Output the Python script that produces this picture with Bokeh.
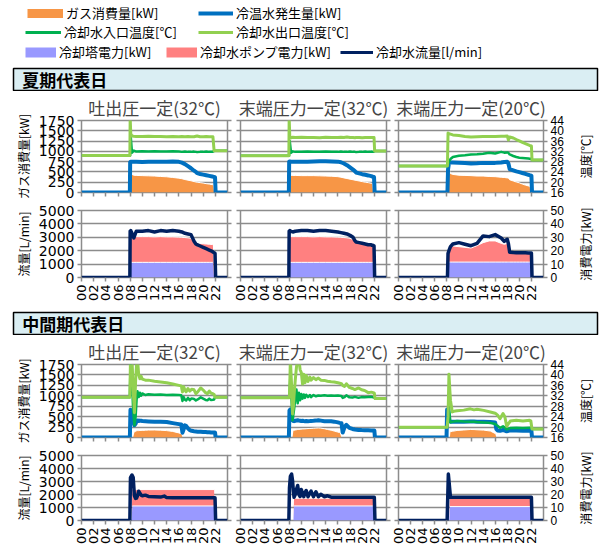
import math
from bokeh.plotting import figure
from bokeh.models import Range1d, LinearAxis, FixedTicker, Legend, LegendItem, Label
from bokeh.layouts import column, row
from bokeh.embed import file_html
from bokeh.resources import INLINE

# ---------------- data ----------------
HOUR_TICKS = [0, 2, 4, 6, 8, 10, 12, 14, 16, 18, 20, 22]
HOUR_LABELS = ["00", "02", "04", "06", "08", "10", "12", "14", "16", "18", "20", "22"]
GAS_TICKS = [0, 250, 500, 750, 1000, 1250, 1500, 1750]
TEMP_TICKS = [16, 20, 24, 28, 32, 36, 40, 44]
FLOW_TICKS = [0, 1000, 2000, 3000, 4000, 5000]
POWER_TICKS = [0, 10, 20, 30, 40, 50]

SEASONS = ["夏期代表日", "中間期代表日"]
PANEL_TITLES = ["吐出圧一定(32℃)", "末端圧力一定(32℃)", "末端圧力一定(20℃)"]
SERIES = ["ガス消費量[kW]", "冷温水発生量[kW]", "冷却水入口温度[℃]", "冷却水出口温度[℃]",
          "冷却塔電力[kW]", "冷却水ポンプ電力[kW]", "冷却水流量[l/min]"]
AXIS_LABELS = ["ガス消費量[kW]", "温度[℃]", "流量[L/min]", "消費電力[kW]"]

# summer, panels 1 and 2 (hours)
T_S12 = [0, 7.95, 8.0, 8.1, 8.3, 8.6, 9, 10, 11, 12, 13, 14, 15, 16, 16.5, 17, 17.5, 18, 18.5, 18.8,
         19.0, 19.5, 20, 20.5, 21, 21.5, 21.6, 21.8, 21.95, 22.05, 24]
GAS_S1 = [0, 0, 0, 540, 440, 420, 415, 410, 405, 400, 390, 382, 365, 348, 335, 315, 300, 285, 266, 255,
          250, 240, 230, 215, 205, 190, 188, 0, 0, 0, 0]
CW_S1 = [0, 0, 740, 750, 750, 745, 745, 740, 745, 750, 745, 750, 755, 745, 725, 690, 640, 590, 530, 500,
         470, 450, 435, 420, 405, 390, 385, 375, 370, 0, 0]
TIN_S1 = [30.4, 30.4, 30.4, 37.5, 31.5, 32.3, 31.9, 32.0, 31.9, 32.0, 31.9, 31.9, 32.0, 31.9, 31.8, 31.9,
          31.8, 31.8, 31.9, 31.8, 31.7, 31.8, 31.8, 31.9, 31.8, 31.8, 31.9, 32.2, 32.2, 32.2, 32.2]
TOUT_S1 = [30.4, 30.4, 45.0, 38.8, 38.0, 37.9, 37.8, 37.8, 37.9, 37.8, 37.8, 37.7, 37.8, 37.7, 37.8, 37.7,
           37.8, 37.7, 37.7, 37.9, 38.0, 37.7, 37.7, 37.8, 37.7, 37.7, 37.7, 32.2, 32.2, 32.2, 32.2]
FLOW_S1 = [0, 0, 3450, 3500, 3300, 2950, 3450, 3450, 3500, 3400, 3500, 3450, 3500, 3450, 3400, 3300,
           3250, 3200, 2700, 2500, 2450, 2350, 2250, 2150, 2050, 1950, 1900, 1850, 1800, 0, 0]
TOWER_S1 = [0, 0, 0, 11.3, 11.3, 11.3, 11.3, 11.3, 11.3, 11.3, 11.3, 11.3, 11.3, 11.3, 11.3, 11.3,
            11.3, 11.3, 11.3, 11.3, 11.3, 11.3, 11.3, 11.3, 11.3, 11.3, 11.3, 0, 0, 0, 0]
PUMP_S1 = [0, 0, 0, 19.0, 19.2, 19.2, 19.2, 19.2, 19.2, 19.0, 19.2, 19.0, 19.0, 18.8, 18.7, 18.5,
           18.3, 18.0, 14.8, 14.5, 14.3, 14.1, 13.9, 13.7, 13.5, 13.3, 13.2, 0, 0, 0, 0]

GAS_S2 = [0, 0, 0, 470, 420, 415, 415, 410, 410, 410, 405, 400, 395, 385, 372, 355, 340, 325, 310, 300,
          295, 280, 265, 250, 240, 225, 222, 0, 0, 0, 0]
CW_S2 = [0, 0, 750, 755, 750, 745, 745, 750, 750, 755, 760, 760, 755, 750, 735, 705, 665, 610, 555, 520,
         485, 465, 445, 430, 415, 398, 392, 380, 375, 0, 0]
TIN_S2 = [30.3, 30.3, 30.3, 36.0, 31.5, 32.0, 31.8, 31.8, 31.9, 31.8, 31.8, 31.9, 31.8, 31.8, 31.9, 31.8,
          31.8, 31.9, 31.8, 31.8, 31.7, 31.8, 31.8, 31.9, 31.8, 31.8, 31.9, 31.8, 31.9, 32.1, 32.1]
TOUT_S2 = [30.3, 30.3, 45.0, 37.8, 37.3, 37.5, 37.4, 37.5, 37.4, 37.4, 37.3, 37.5, 37.4, 37.4, 37.5, 37.4,
           37.6, 37.4, 37.4, 37.3, 37.4, 37.4, 37.3, 37.4, 37.4, 37.4, 37.4, 37.4, 37.4, 32.1, 32.1]
FLOW_S2 = [0, 0, 3450, 3500, 3450, 3400, 3450, 3500, 3500, 3450, 3500, 3500, 3450, 3400, 3350, 3300,
           3250, 3150, 3000, 2750, 2650, 2600, 2550, 2500, 2450, 2450, 2400, 2400, 2350, 0, 0]
TOWER_S2 = [0, 0, 0, 11.3, 11.3, 11.3, 11.3, 11.3, 11.3, 11.3, 11.3, 11.3, 11.3, 11.3, 11.3, 11.3,
            11.3, 11.3, 11.3, 11.3, 11.3, 11.3, 11.3, 11.3, 11.3, 11.3, 11.3, 11.3, 11.3, 0, 0]
PUMP_S2 = [0, 0, 0, 19.0, 19.2, 19.2, 19.2, 19.2, 19.2, 19.0, 19.2, 19.0, 19.0, 18.8, 18.7, 18.5,
           18.3, 18.0, 17.0, 15.5, 15.0, 14.6, 14.3, 14.0, 13.7, 13.5, 13.4, 13.3, 13.2, 0, 0]

# summer, panel 3
T_S3 = [0, 8.1, 8.2, 8.35, 8.6, 9, 10, 11, 12, 13, 14, 15, 16, 17, 17.5, 18, 18.2, 18.4, 19, 19.5,
        20, 20.5, 21, 21.5, 21.7, 21.85, 22.0, 22.1, 24]
GAS_S3 = [0, 0, 0, 570, 460, 440, 420, 415, 410, 400, 400, 390, 385, 370, 365, 355, 350, 310, 280, 255,
          235, 205, 180, 160, 145, 0, 0, 0, 0]
CW_S3 = [0, 0, 560, 720, 730, 730, 725, 715, 705, 710, 720, 715, 720, 730, 740, 745, 700, 570, 540, 515,
         495, 475, 455, 430, 420, 415, 410, 0, 0]
TIN_S3 = [26.3, 26.3, 27.0, 28.0, 29.0, 29.8, 30.3, 30.5, 30.8, 30.9, 31.1, 31.5, 31.2, 31.8, 31.5, 31.6,
          31.4, 30.8, 30.2, 29.8, 29.5, 29.4, 29.3, 29.2, 29.1, 29.1, 29.1, 28.6, 28.6]
TOUT_S3 = [26.3, 26.3, 39.1, 38.9, 38.7, 38.4, 38.2, 37.8, 37.6, 37.7, 37.8, 37.8, 37.8, 37.9, 37.9, 38.0,
           36.4, 37.6, 37.2, 36.6, 36.1, 35.5, 35.0, 34.5, 34.3, 34.2, 34.1, 28.6, 28.6]
FLOW_S3 = [0, 0, 1800, 2000, 2300, 2500, 2600, 2480, 2370, 2550, 3100, 3050, 3200, 2950, 2700, 2850,
           2500, 1880, 1860, 1850, 1850, 1840, 1840, 1830, 1830, 1830, 1830, 0, 0]
TOWER_S3 = [0, 0, 11.5, 11.5, 11.5, 11.5, 11.5, 11.5, 11.5, 11.5, 11.5, 11.5, 11.5, 11.5, 11.5, 11.5,
            11.5, 11.5, 11.5, 11.5, 11.5, 11.5, 11.5, 11.5, 11.5, 11.5, 11.5, 0, 0]
PUMP_S3 = [0, 0, 6.5, 10.5, 11.2, 12.0, 11.5, 11.0, 10.5, 12.3, 14.5, 15.8, 15.8, 14.0, 13.3, 13.9,
           12.5, 7.3, 7.3, 7.3, 7.3, 7.3, 7.3, 7.3, 7.3, 7.3, 7.3, 0, 0]

# intermediate season, panel 1
T_M1 = [0, 7.95, 8.05, 8.3, 8.5, 8.7, 8.9, 9.05, 9.2, 9.4, 9.6, 9.8, 10.0, 10.5, 11, 12, 13, 14, 15, 16,
        16.4, 16.6, 16.8, 17.0, 17.2, 17.5, 17.8, 18.1, 18.5, 18.8, 19.1, 19.6, 20.0, 20.4, 20.7, 21.0,
        21.3, 21.6, 21.8, 21.95, 22.05, 24]
GAS_M1 = [0, 0, 0, 0, 0, 130, 150, 160, 165, 165, 170, 170, 170, 175, 178, 180, 175, 165, 145, 110,
          90, 0, 0, 0, 0, 0, 0, 0, 0, 0, 0, 0, 0, 0, 0, 0, 0, 0, 0, 0, 0, 0]
CW_M1 = [0, 0, 665, 590, 420, 295, 330, 400, 410, 395, 405, 400, 395, 390, 385, 375, 380, 370, 345, 320,
         310, 115, 200, 290, 280, 220, 175, 160, 150, 145, 140, 135, 130, 130, 125, 125, 120, 120, 120,
         120, 0, 0]
TIN_M1 = [31.4, 31.4, 44, 38, 26, 20.7, 24, 30.2, 33.7, 31.5, 33.2, 32.0, 32.9, 32.3, 32.6, 32.4, 32.5,
          32.3, 32.4, 32.3, 32.2, 30.0, 31.5, 30.5, 30.2, 31.2, 30.3, 31.0, 30.8, 30.2, 30.6, 31.4, 30.9,
          30.4, 30.3, 30.9, 30.4, 30.5, 30.6, 31.4, 31.4, 31.4]
TOUT_M1 = [31.4, 31.4, 46, 46, 34, 25.5, 38, 44, 46, 40.2, 38.5, 39.5, 38.4, 38.0, 38.0, 37.6, 37.3,
           37.0, 36.5, 36.0, 35.8, 33.5, 35.5, 34.2, 33.5, 34.8, 33.8, 34.5, 34.3, 32.8, 33.5, 35.0, 34.2,
           33.2, 32.8, 33.8, 33.0, 32.8, 32.5, 31.4, 31.4, 31.4]
TF_M1 = [0, 7.95, 8.05, 8.3, 8.5, 8.7, 8.9, 9.05, 9.2, 9.4, 9.6, 9.8, 10.0, 10.5, 11, 12, 13, 13.6, 14,
         15, 21.95, 22.05, 24]
FLOW_M1 = [0, 0, 3300, 3500, 3300, 1900, 1700, 1720, 1900, 2250, 2100, 1950, 1900, 1950, 1850, 1830,
           1800, 1880, 1760, 1750, 1750, 0, 0]
TP_M1 = [0, 8.25, 8.35, 21.8, 21.9, 24]
TOWER_M1 = [0, 0, 11.2, 11.2, 0, 0]
PUMP_M1 = [0, 0, 12.6, 12.6, 0, 0]

# intermediate season, panel 2
T_M2 = [0, 7.95, 8.05, 8.2, 8.4, 8.55, 8.7, 8.8, 9.0, 9.2, 9.4, 9.6, 9.8, 10.0, 10.2, 10.4, 10.6, 10.8,
        11.1, 11.4, 11.6, 12.0, 12.4, 12.8, 13.2, 13.8, 14.3, 14.9, 15.4, 16.0, 16.3, 16.6, 16.8, 17.1,
        17.4, 17.9, 18.4, 18.8, 19.4, 19.9, 20.4, 21.0, 21.5, 21.8, 22.0, 22.1, 24]
GAS_M2 = [0, 0, 0, 0, 0, 0, 170, 175, 180, 185, 192, 195, 198, 200, 203, 205, 207, 210, 214, 216, 218,
          222, 226, 229, 225, 210, 192, 175, 155, 130, 118, 0, 0, 0, 0, 0, 0, 0, 0, 0, 0, 0, 0, 0, 0, 0, 0]
CW_M2 = [0, 0, 650, 672, 600, 414, 395, 390, 400, 410, 414, 405, 400, 395, 400, 395, 392, 395, 392, 395,
         398, 400, 405, 414, 405, 392, 392, 390, 380, 362, 350, 340, 118, 250, 303, 229, 205, 192, 182,
         177, 175, 172, 170, 170, 170, 0, 0]
TIN_M2 = [31.2, 31.2, 31.5, 40, 30, 22.6, 25, 26.7, 30.9, 34.4, 29.1, 33.2, 30.3, 32.7, 30.9, 32.5,
          31.2, 32.4, 31.5, 32.3, 31.5, 32.3, 31.8, 32.1, 32.0, 32.2, 32.0, 32.1, 32.0, 32.1, 32.0, 31.9,
          31.2, 31.5, 32.2, 31.4, 31.3, 31.6, 31.2, 31.5, 31.4, 31.5, 31.6, 31.4, 31.3, 31.0, 31.0]
TOUT_M2 = [31.2, 31.2, 31.5, 46, 36, 25.0, 28, 32, 38, 43, 46, 46, 42, 40.9, 36.5, 40.3, 37.0, 39.8,
           37.5, 39.2, 38.0, 39.0, 38.2, 38.8, 38.0, 37.9, 37.6, 37.4, 37.3, 37.0, 36.8, 36.6, 36.0, 35.6,
           36.6, 35.2, 34.8, 34.4, 35.0, 34.3, 34.0, 33.2, 33.4, 33.2, 33.0, 31.0, 31.0]
TF_M2 = [0, 7.95, 8.05, 8.2, 8.4, 8.55, 8.7, 8.8, 9.0, 9.2, 9.4, 9.6, 9.8, 10.0, 10.2, 10.4, 10.6, 10.8,
         11.1, 11.4, 11.6, 12.0, 12.4, 12.8, 13.2, 13.8, 14.3, 14.9, 22.0, 22.1, 24]
FLOW_M2 = [0, 0, 2500, 3400, 3570, 3100, 2200, 1790, 2000, 2400, 2690, 2000, 1850, 2380, 2100, 1830,
           2150, 2310, 1830, 2100, 2260, 1830, 2210, 1830, 2020, 1830, 1900, 1790, 1790, 0, 0]
TP_M2 = [0, 8.7, 8.8, 22.0, 22.1, 24]
TOWER_M2 = [0, 0, 11.2, 11.2, 0, 0]
PUMP_M2 = [0, 0, 5.9, 5.9, 0, 0]

# intermediate season, panel 3
T_M3 = [0, 7.95, 8.05, 8.2, 8.35, 8.5, 8.6, 8.9, 9.4, 9.7, 10.8, 11.9, 12.5, 13.0, 14.1, 15.2, 16.0,
        16.2, 16.4, 16.8, 17.3, 17.6, 17.9, 18.5, 19.5, 20.6, 21.7, 21.9, 22.0, 22.1, 24]
GAS_M3 = [0, 0, 0, 0, 0, 0, 140, 150, 160, 170, 180, 192, 190, 185, 177, 155, 96, 0, 0, 0, 0, 0, 0, 0,
          0, 0, 0, 0, 0, 0, 0]
CW_M3 = [0, 0, 670, 640, 400, 385, 380, 378, 375, 378, 380, 385, 382, 380, 375, 370, 360, 200, 170, 160,
         180, 165, 150, 170, 165, 160, 165, 162, 160, 0, 0]
TIN_M3 = [19.9, 19.9, 19.9, 22, 28, 24, 21.8, 22.0, 22.2, 22.3, 22.1, 22.0, 22.0, 21.9, 21.8, 21.6, 21.2,
          20.8, 20.5, 19.7, 20.3, 19.8, 19.1, 19.6, 19.7, 19.6, 19.7, 19.7, 19.6, 19.3, 19.3]
TOUT_M3 = [19.9, 19.9, 19.9, 24, 40.3, 34, 30.3, 25.8, 26.2, 26.3, 26.5, 27.0, 26.6, 26.8, 26.4, 25.8,
           25.3, 25.0, 24.6, 23.2, 25.2, 24.0, 20.3, 22.3, 22.6, 22.3, 22.6, 22.4, 20.8, 19.3, 19.3]
TF_M3 = [0, 8.05, 8.25, 8.6, 22.0, 22.1, 24]
FLOW_M3 = [0, 0, 3570, 1790, 1790, 0, 0]
TP_M3 = [0, 8.4, 8.5, 22.0, 22.05, 24]
TOWER_M3 = [0, 0, 10.7, 10.7, 0, 0]
PUMP_M3 = [0, 0, 7.2, 7.2, 0, 0]

# ---------------- styles ----------------
C_GAS, C_CW, C_TIN, C_TOUT = "#F79646", "#0070C0", "#00B050", "#92D050"
C_TOWER, C_PUMP, C_FLOW = "#9999FF", "#FF8080", "#002060"
GRID = "#8C8C8C"
HEAD_BG = "#DAEEF3"
CJK = "Noto Sans CJK JP"
NUM = "DejaVu Sans"
NUM_R = "Liberation Sans"
NAN = float("nan")

COLS = [dict(width=234, left=81, right=7),
        dict(width=158, left=6, right=6),
        dict(width=174, left=6, right=22)]
SIDE_W = 36


def style_axis(ax, ticks, show, size="14px", font=NUM, overrides=None):
    ax.ticker = FixedTicker(ticks=ticks)
    ax.axis_line_color = None
    ax.major_tick_line_color = GRID
    ax.major_tick_line_width = 1.5
    ax.major_tick_in = 0
    ax.major_tick_out = 4
    ax.minor_tick_line_color = None
    if show:
        ax.major_label_text_font = font
        ax.major_label_text_font_size = size
        ax.major_label_text_color = "black"
        ax.major_label_standoff = 3
        if overrides:
            ax.major_label_overrides = overrides
    else:
        ax.major_label_overrides = {t: "" for t in ticks}
        ax.major_label_text_font_size = "0px"
        ax.major_label_standoff = 0


def set_axis_label(ax, text, standoff=4):
    ax.axis_label = text
    ax.axis_label_text_font = CJK
    ax.axis_label_text_font_size = "12px"
    ax.axis_label_text_font_style = "normal"
    ax.axis_label_text_color = "black"
    ax.axis_label_standoff = standoff


def side_label(text, height, top, bottom):
    # narrow strip to the right of the third column carrying the secondary-axis title
    s = figure(width=SIDE_W, height=height, x_range=Range1d(0, 1), y_range=Range1d(0, 1),
               x_axis_type=None, output_backend="svg", toolbar_location=None,
               min_border_left=SIDE_W - 1, min_border_right=0,
               min_border_top=top, min_border_bottom=bottom)
    s.outline_line_color = None
    s.ygrid.visible = False
    s.background_fill_color = "white"
    s.border_fill_color = "white"
    ax = s.left[0]
    ax.ticker = FixedTicker(ticks=[])
    ax.axis_line_color = None
    ax.major_tick_out = 0
    ax.major_tick_in = 0
    ax.minor_tick_line_color = None
    ax.major_label_standoff = 0
    ax.major_label_text_font_size = "0px"
    set_axis_label(ax, text, standoff=8)
    return s


def base_figure(ci, height, top, bottom, ymax, title=None):
    c = COLS[ci]
    kw = dict(width=c["width"], height=height, x_range=Range1d(0, 24), y_range=Range1d(0, ymax),
              output_backend="svg", toolbar_location=None,
              min_border_left=c["left"], min_border_right=c["right"],
              min_border_top=top, min_border_bottom=bottom)
    if title:
        kw["title"] = title
    p = figure(**kw)
    p.outline_line_color = GRID
    p.outline_line_width = 1.5
    p.xgrid.visible = False
    p.ygrid.grid_line_color = GRID
    p.ygrid.grid_line_width = 1.5
    p.background_fill_color = "white"
    p.border_fill_color = "white"
    if title:
        p.title.align = "center"
        p.title.text_font = CJK
        p.title.text_font_size = "17px"
        p.title.text_font_style = "normal"
        p.title.standoff = 2
    return p


def top_chart(ci, t, gas, cw, tin, tout, height, top):
    p = base_figure(ci, height, top, 8, 1750, PANEL_TITLES[ci])
    p.extra_y_ranges = {"temp": Range1d(16, 44)}
    p.ygrid.ticker = FixedTicker(ticks=GAS_TICKS)
    p.varea(x=t, y1=[0 for _ in t], y2=gas, fill_color=C_GAS)
    p.line(x=t, y=[v if v > 0 else NAN for v in gas], line_color="white", line_width=1)
    p.line(x=t, y=cw, line_color=C_CW, line_width=4, line_join="round")
    p.line(x=t, y=tin, line_color=C_TIN, line_width=2.5, y_range_name="temp", line_join="round")
    p.line(x=t, y=tout, line_color=C_TOUT, line_width=3, y_range_name="temp", line_join="round")
    right = LinearAxis(y_range_name="temp")
    p.add_layout(right, "right")
    style_axis(p.left[0], GAS_TICKS, ci == 0)
    style_axis(right, TEMP_TICKS, ci == 2, size="12px", font=NUM_R)
    style_axis(p.below[0], HOUR_TICKS, False)
    if ci == 0:
        set_axis_label(p.left[0], AXIS_LABELS[0])
    return p


def flow_chart(ci, tf, flow, tp, tower, pump, height, top, bottom):
    p = base_figure(ci, height, top, bottom, 5000)
    p.extra_y_ranges = {"pow": Range1d(0, 50)}
    p.ygrid.ticker = FixedTicker(ticks=FLOW_TICKS)
    stack = [a + b for a, b in zip(tower, pump)]
    p.varea(x=tp, y1=[0 for _ in tp], y2=tower, fill_color=C_TOWER, y_range_name="pow")
    p.varea(x=tp, y1=tower, y2=stack, fill_color=C_PUMP, y_range_name="pow")
    p.line(x=tp, y=[v if v > 0 else NAN for v in tower], line_color="white", line_width=1,
           y_range_name="pow")
    p.line(x=tp, y=[v if v > 0 else NAN for v in stack], line_color="white", line_width=1,
           y_range_name="pow")
    p.line(x=tf, y=flow, line_color=C_FLOW, line_width=3.5, line_join="round")
    right = LinearAxis(y_range_name="pow")
    p.add_layout(right, "right")
    style_axis(p.left[0], FLOW_TICKS, ci == 0)
    style_axis(right, POWER_TICKS, ci == 2, size="12px", font=NUM_R)
    bx = p.below[0]
    style_axis(bx, HOUR_TICKS, True, size="13px", font=NUM,
               overrides=dict(zip(HOUR_TICKS, HOUR_LABELS)))
    bx.major_label_orientation = math.pi / 2
    if ci == 0:
        set_axis_label(p.left[0], AXIS_LABELS[2])
    return p


def header(text):
    h = figure(width=602, height=24, x_range=Range1d(0, 1), y_range=Range1d(0, 1),
               x_axis_type=None, y_axis_type=None, output_backend="svg", toolbar_location=None,
               min_border_left=13, min_border_right=5, min_border_top=1, min_border_bottom=1)
    h.background_fill_color = HEAD_BG
    h.border_fill_color = "white"
    h.outline_line_color = "black"
    h.outline_line_width = 1.5
    h.add_layout(Label(x=0.015, y=0.5, text=text, text_font=CJK, text_font_size="17px",
                       text_font_style="bold", text_baseline="middle", text_color="black"))
    return h


def legend_fig():
    lf = figure(width=602, height=67, x_range=Range1d(0, 1), y_range=Range1d(0, 1),
                x_axis_type=None, y_axis_type=None, output_backend="svg", toolbar_location=None,
                min_border=0)
    lf.outline_line_color = None
    # (series index, colour, thickness, glyph width, x, y)
    spec = [(0, C_GAS, 9, 36, 14, 45), (1, C_CW, 4, 35, 185, 45),
            (2, C_TIN, 3, 36, 12, 26), (3, C_TOUT, 3, 35, 185, 26),
            (4, C_TOWER, 10, 31, 12, 6), (5, C_PUMP, 10, 31, 153, 6), (6, C_FLOW, 3, 33, 327, 6)]
    for si, col, thick, gw, x, y in spec:
        r = lf.line(x=[NAN], y=[NAN], line_color=col, line_width=thick, line_cap="butt")
        lg = Legend(items=[LegendItem(label=SERIES[si], renderers=[r])], location=(x, y),
                    orientation="horizontal", glyph_width=gw, glyph_height=14, label_height=14,
                    label_standoff=3, padding=0, margin=0, spacing=0, border_line_color=None,
                    background_fill_alpha=0, label_text_font=CJK, label_text_font_size="13px",
                    label_text_color="black")
        lf.add_layout(lg)
    return lf


summer_top = [
    top_chart(0, T_S12, GAS_S1, CW_S1, TIN_S1, TOUT_S1, 109, 22),
    top_chart(1, T_S12, GAS_S2, CW_S2, TIN_S2, TOUT_S2, 109, 22),
    top_chart(2, T_S3, GAS_S3, CW_S3, TIN_S3, TOUT_S3, 109, 22),
    side_label(AXIS_LABELS[1], 109, 22, 8),
]
summer_flow = [
    flow_chart(0, T_S12, FLOW_S1, T_S12, TOWER_S1, PUMP_S1, 111, 10, 34),
    flow_chart(1, T_S12, FLOW_S2, T_S12, TOWER_S2, PUMP_S2, 111, 10, 34),
    flow_chart(2, T_S3, FLOW_S3, T_S3, TOWER_S3, PUMP_S3, 111, 10, 34),
    side_label(AXIS_LABELS[3], 111, 10, 34),
]
mid_top = [
    top_chart(0, T_M1, GAS_M1, CW_M1, TIN_M1, TOUT_M1, 110, 23),
    top_chart(1, T_M2, GAS_M2, CW_M2, TIN_M2, TOUT_M2, 110, 23),
    top_chart(2, T_M3, GAS_M3, CW_M3, TIN_M3, TOUT_M3, 110, 23),
    side_label(AXIS_LABELS[1], 110, 23, 8),
]
mid_flow = [
    flow_chart(0, TF_M1, FLOW_M1, TP_M1, TOWER_M1, PUMP_M1, 102, 10, 23),
    flow_chart(1, TF_M2, FLOW_M2, TP_M2, TOWER_M2, PUMP_M2, 102, 10, 23),
    flow_chart(2, TF_M3, FLOW_M3, TP_M3, TOWER_M3, PUMP_M3, 102, 10, 23),
    side_label(AXIS_LABELS[3], 102, 10, 23),
]

layout = column(legend_fig(), header(SEASONS[0]), row(*summer_top), row(*summer_flow),
                header(SEASONS[1]), row(*mid_top), row(*mid_flow))

open("out.html", "w").write(file_html(layout, INLINE, "chart"))
